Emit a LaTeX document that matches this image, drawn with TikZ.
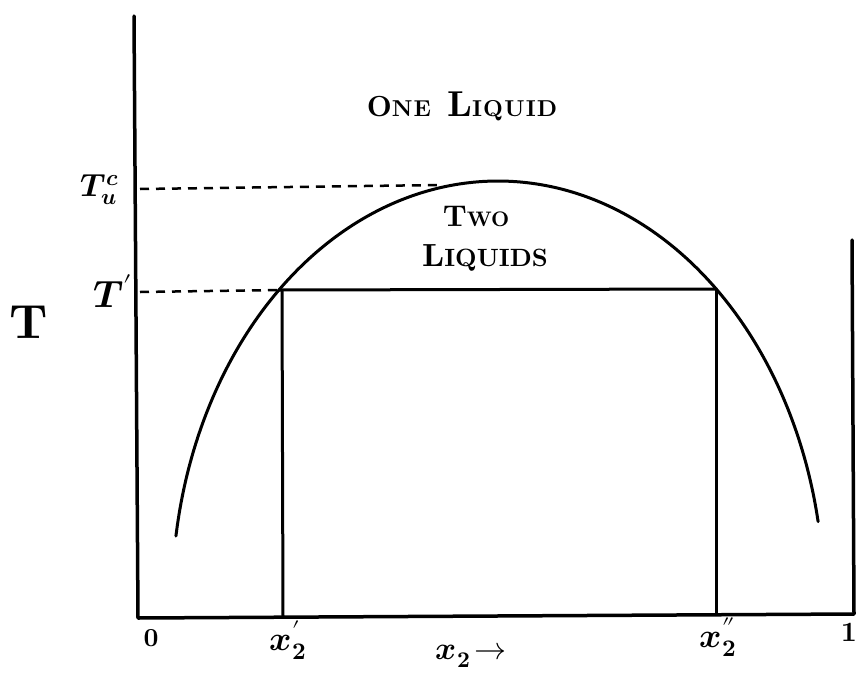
\documentclass[tikz,border=0pt]{standalone}
\usepackage{fontspec}
\usepackage{unicode-math}
\newfontfamily\handfont{lmroman10-bold.otf}
\begin{document}
\begin{tikzpicture}[x=1pt,y=-1pt,
  axis/.style={line width=3.5pt, line cap=round, line join=round},
  curve/.style={line width=3pt, line cap=round},
  tie/.style={line width=3pt},
  guide/.style={line width=2.5pt, dash pattern=on 9pt off 7pt},
  lbl/.style={inner sep=0pt, anchor=center}]
\useasboundingbox (0,0) rectangle (859,680);
% axes
\coordinate (ytop) at (134,16);
\coordinate (origin) at (138,618);
\coordinate (xend) at (854,614);
\coordinate (rtop) at (852,240);
\draw[axis] (ytop) -- (origin) -- (xend) -- (rtop);
% coexistence curve (elliptic dome)
\draw[curve] plot[domain=10.9:171.1, samples=120, smooth] ({498+326*cos(\x)}, {601-420*sin(\x)});
% tie line and verticals
\coordinate (xl) at (279,290);
\coordinate (xr) at (717,289);
\coordinate (xlt) at (282,290);
\coordinate (xlb) at (283,617);
\coordinate (xrt) at (716,289);
\coordinate (xrb) at (716,614);
\draw[tie] (xl) -- (xr);
\draw[tie] (xlt) -- (xlb);
\draw[tie] (xrt) -- (xrb);
% dashed guides
\coordinate (tucstart) at (140,189);
\coordinate (tucend) at (440,185);
\coordinate (tpstart) at (140,292);
\draw[guide] (tucstart) -- (tucend);
\draw[guide] (tpstart) -- (xl);
% labels
\node[lbl] (one) at (462,106) {\handfont\addfontfeature{LetterSpace=5}\fontsize{29}{30}\selectfont O\fontsize{23}{24}\selectfont NE\hspace{0.7em}\fontsize{36}{36}\selectfont L\fontsize{23}{24}\selectfont IQUID};
\node[lbl] (two) at (476,216) {\handfont\fontsize{30}{30}\selectfont T\fontsize{21}{22}\selectfont WO};
\node[lbl] (liqs) at (485,258) {\handfont\fontsize{32}{32}\selectfont L\fontsize{25}{26}\selectfont IQUIDS};
\node[lbl] (tuc) at (100,190) {\fontsize{32}{34}\selectfont$\symbfit{T}_{\symbfit{u}}^{\symbfit{c}}$};
\node[lbl] (tp) at (113,291) {\fontsize{38}{40}\selectfont$\symbfit{T}'$};
\node[lbl] (tbig) at (29,322) {\handfont\fontsize{48}{50}\selectfont T};
\node[lbl] (zero) at (151,638) {\handfont\fontsize{26}{28}\selectfont 0};
\node[lbl] (one1) at (849,632) {\handfont\fontsize{28}{30}\selectfont 1};
\node[lbl] (x2p) at (288,640) {\fontsize{34}{36}\selectfont$\symbfit{x}_{\symbf{2}}'$};
\node[lbl] (x2pp) at (718,637) {\fontsize{34}{36}\selectfont$\symbfit{x}_{\symbf{2}}''$};
\node[lbl] (x2) at (471,655) {\fontsize{32}{34}\selectfont$\symbfit{x}_{\symbf{2}}\!\rightarrow$};
\end{tikzpicture}
\end{document}
